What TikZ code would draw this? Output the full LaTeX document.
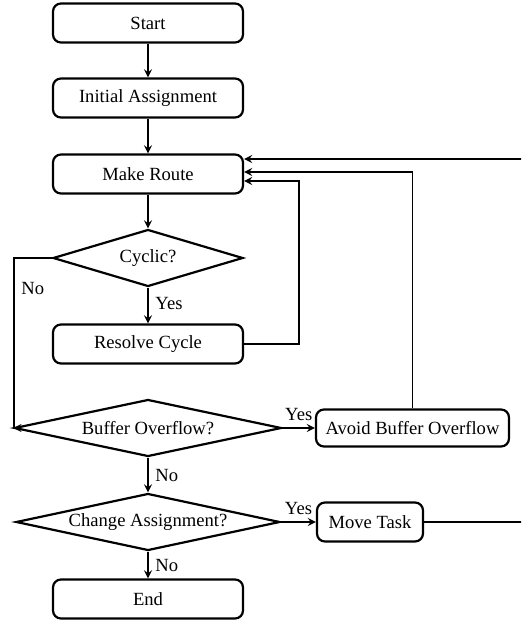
\documentclass[tikz,border=0pt]{standalone}
\usepackage{fontspec}
\setmainfont{Liberation Serif}
\usetikzlibrary{shapes.geometric,calc}

\begin{document}
\begin{tikzpicture}[x=0.5pt,y=-0.5pt,>=stealth,
  font=\fontsize{9.3}{11}\selectfont,
  stepbox/.style={draw, line width=1.1pt, rounded corners=4pt,
    minimum width=95pt, minimum height=19.5pt, inner sep=1pt},
  testbox/.style={draw, diamond, line width=1.1pt, inner sep=0pt,
    minimum width=95pt, minimum height=28.5pt, aspect=3.33},
  flow/.style={->, line width=0.8pt}]
  \useasboundingbox (0,0) rectangle (521,621);
  \clip (0,0) rectangle (521,621);

  % main column
  \node[stepbox] (start)   at (148,23)  {Start};
  \node[stepbox] (init)    at (148,98)  {Initial Assignment};
  \node[stepbox] (route)   at (148,174) {Make Route};
  \node[testbox] (cyclic)  at (148,258) {Cyclic?};
  \node[stepbox] (resolve) at (148,344) {Resolve Cycle};
  \node[testbox, minimum width=133.5pt, aspect=4.68] (buffer) at (148,428) {Buffer Overflow?};
  \node[testbox, minimum width=132pt, aspect=4.7]    (change) at (148,522) {Change Assignment?};
  \node[stepbox] (finish)  at (148,599) {End};

  % side boxes
  \node[stepbox, minimum width=96.5pt, minimum height=18.5pt] (avoid) at (412.5,428) {Avoid Buffer Overflow};
  \node[stepbox, minimum width=53pt] (move) at (370,522) {Move Task};

  % far right return line
  \coordinate (edge) at (530,0);

  \draw[flow] (start) -- (init);
  \draw[flow] (init) -- (route);
  \draw[flow] (route) -- (cyclic);
  \draw[flow] (cyclic) -- (resolve) node[pos=0.45, right] (yes1) {Yes};
  \draw[flow] (cyclic.west) -- ++(-38,0) |- (buffer.west) node[pos=0.09, right] (no1) {No};
  \draw[flow] (buffer) -- (change) node[midway, right] (no2) {No};
  \draw[flow] (change) -- (finish) node[midway, right] (no3) {No};
  \draw[flow] (buffer.east) -- (avoid.west) node[midway, above] (yes2) {Yes};
  \draw[flow] (change.east) -- (move.west) node[midway, above] (yes3) {Yes};

  % loops back to Make Route
  \draw[flow] (resolve.east) -- ++(55,0) |- ($(route.east)+(0,7)$);
  \draw[flow] (avoid.north) |- ($(route.east)+(0,-2)$);
  \draw[flow] (move.east) -- (move.east -| edge) |- ($(route.east)+(0,-15)$);
\end{tikzpicture}
\end{document}
